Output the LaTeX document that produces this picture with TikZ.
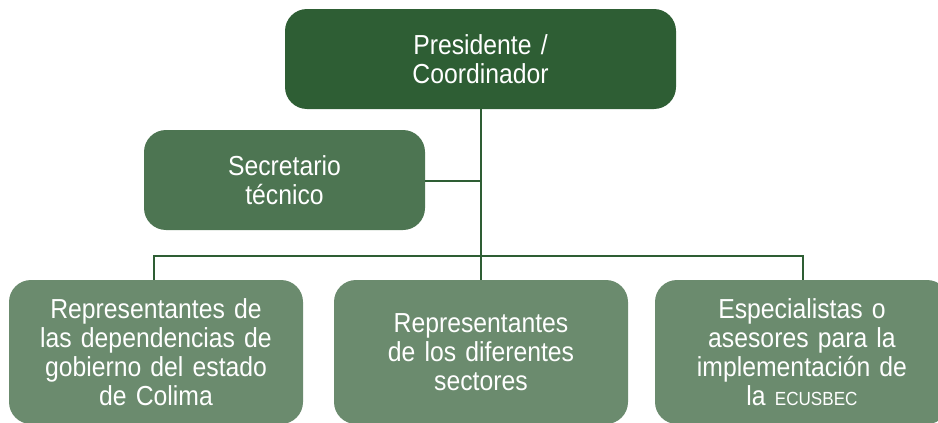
\documentclass[tikz,border=0pt]{standalone}
\usepackage{fontspec}
\setmainfont{Liberation Sans}[FakeStretch=0.9]
\definecolor{gTop}{HTML}{2E5E34}
\definecolor{gMid}{HTML}{4D7552}
\definecolor{gLow}{HTML}{6B8B6E}
\definecolor{gLine}{HTML}{2E5E34}
\tikzset{
  orgbox/.style={rounded corners=22pt, inner sep=0pt, align=center, text=white,
    font=\fontsize{27.5}{29}\selectfont},
  linkline/.style={draw=gLine, line width=2.2pt}
}
\begin{document}
\begin{tikzpicture}[x=1pt,y=-1pt]
\useasboundingbox (0,0) rectangle (938,423);
\clip (0,0) rectangle (938,423);
\node[orgbox, fill=gTop, minimum width=391pt, minimum height=100pt, text width=380pt] (pres) at (480.5,59) {Presidente /\\Coordinador};
\node[orgbox, fill=gMid, minimum width=281pt, minimum height=100pt, text width=270pt] (sec) at (284.5,180) {Secretario\\técnico};
\node[orgbox, fill=gLow, minimum width=294pt, minimum height=144pt, text width=285pt] (r1) at (156,352) {Representantes de\\las dependencias de\\gobierno del estado\\de Colima};
\node[orgbox, fill=gLow, minimum width=294pt, minimum height=144pt, text width=285pt] (r2) at (481,352) {Representantes\\de los diferentes\\sectores};
\node[orgbox, fill=gLow, minimum width=294pt, minimum height=144pt, text width=285pt] (r3) at (802,352) {Especialistas o\\asesores para la\\implementación de\\la {\fontsize{19}{19}\selectfont ECUSBEC}};
\coordinate (hub) at (481,256);
\coordinate (junc) at (481,181);
\draw[linkline] (pres.south -| hub) -- (hub);
\draw[linkline] (sec.east |- junc) -- (junc);
\draw[linkline] (r1.north -| 154,0) -- (154,256) -- (803,256) -- (r3.north -| 803,0);
\draw[linkline] (hub) -- (r2.north -| hub);
\end{tikzpicture}
\end{document}
